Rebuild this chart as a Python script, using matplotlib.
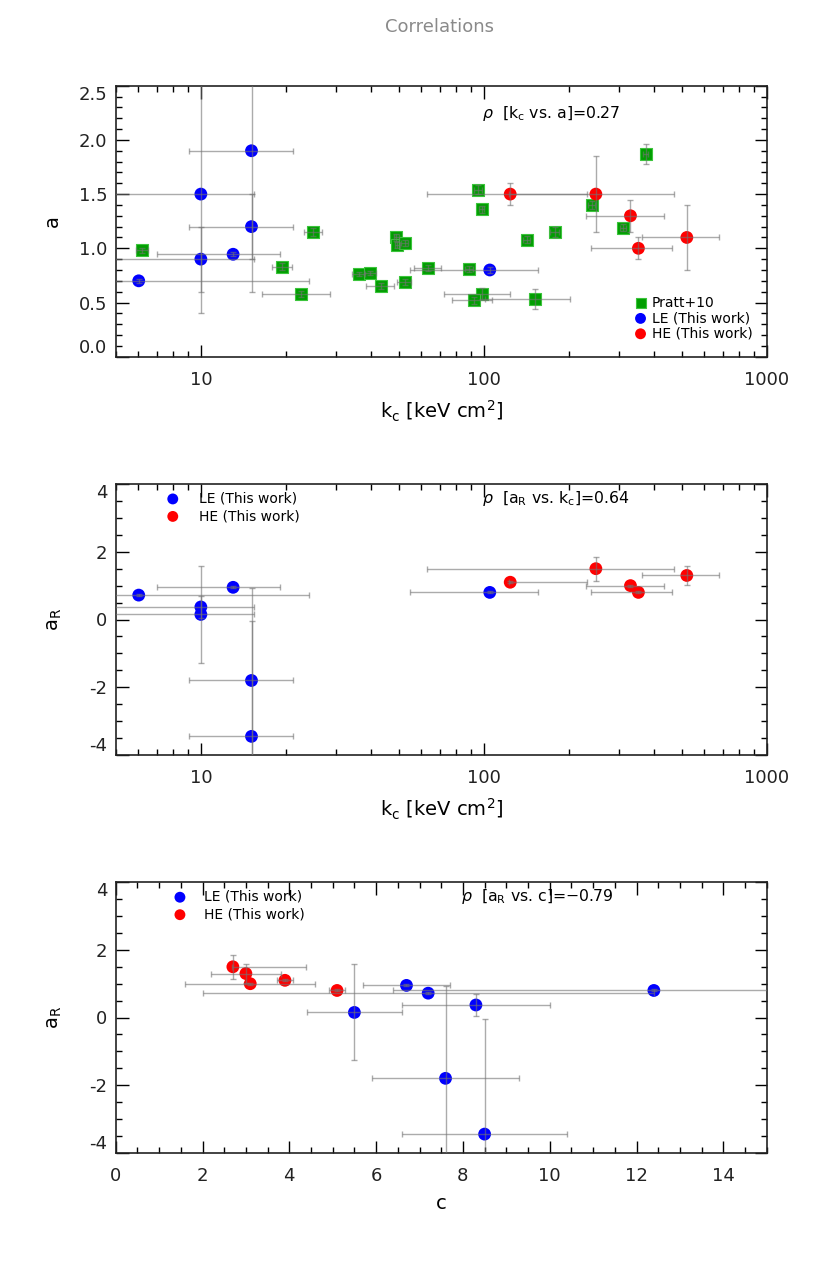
import numpy as np
import matplotlib
matplotlib.use("Agg")
import matplotlib.pyplot as plt
from matplotlib.ticker import LogLocator, FixedLocator, MultipleLocator, NullFormatter, FixedFormatter

plt.rcParams['font.family'] = ['DejaVu Sans']
plt.rcParams['axes.unicode_minus'] = False

# ---------------- data ----------------
# Pratt+10 (top panel)
pr_k = [6.2, 19.4, 24.9, 22.5, 36.1, 39.6, 43.2, 49.0, 49.5, 52.5, 52.5, 63.6,
        88.5, 95.3, 98.4, 141.6, 178, 241, 310, 374, 98.2, 92.3, 151.4]
pr_a = [0.98, 0.83, 1.15, 0.58, 0.76, 0.77, 0.65, 1.10, 1.03, 1.05, 0.69, 0.82,
        0.81, 1.54, 1.36, 1.08, 1.15, 1.40, 1.19, 1.87, 0.58, 0.52, 0.53]
pr_kerr = [0.3, 1.6, 1.8, 6, 1.8, 1.9, 5, 1.0, 1.0, 1.5, 3, 7,
           3, 3, 2, 4, 7, 7, 8, 8, 26, 15, 50]
pr_aerr = [0.02, 0.03, 0.04, 0.03, 0.02, 0.02, 0.03, 0.03, 0.03, 0.03, 0.03, 0.03,
           0.03, 0.04, 0.03, 0.03, 0.05, 0.04, 0.03, 0.09, 0.05, 0.03, 0.09]

# LE (This work)
le_k = [6.03, 10, 10, 13.0, 15.1, 15.1, 105]
le_kerr = [18, 5.4, 5.4, 6, 6, 6, 50]
le_a = [0.70, 1.50, 0.90, 0.945, 1.90, 1.20, 0.80]
le_aerr = [0.02, 1.1, 0.3, 0.02, 1.3, 0.3, 0.03]
le_aR = [0.72, 0.37, 0.15, 0.95, -1.80, -3.45, 0.80]
le_aRerr = [0.03, 0.32, 1.42, 0.03, 2.74, 3.40, 0.03]
le_c = [7.2, 8.3, 5.5, 6.7, 7.6, 8.5, 12.4]
le_cerr = [5.2, 1.7, 1.1, 1.0, 1.7, 1.9, 6.0]

# HE (This work)
he_k = [124, 249, 330, 352, 522]
he_kerr_lo = [1, 186, 100, 112, 161]
he_kerr_hi = [108, 223, 102, 109, 159]
he_a = [1.50, 1.50, 1.30, 1.00, 1.10]
he_aerr = [0.10, 0.35, 0.15, 0.10, 0.30]
he_aR = [1.10, 1.50, 1.00, 0.80, 1.30]
he_aRerr = [0.03, 0.35, 0.03, 0.03, 0.29]
he_c = [3.9, 2.7, 3.1, 5.1, 3.0]
he_cerr_lo = [0.18, 0.02, 1.5, 0.18, 0.8]
he_cerr_hi = [0.18, 1.68, 1.5, 0.18, 0.8]

rho_texts = [r"$\rho$  [k$_{\rm c}$ vs. a]=0.27",
             r"$\rho$  [a$_{\rm R}$ vs. k$_{\rm c}$]=0.64",
             r"$\rho$  [a$_{\rm R}$ vs. c]=$-$0.79"]
kc_label = r"k$_{\rm c}$ [keV cm$^{2}$]"

# ---------------- style ----------------
GREEN = '#009e00'
BLUE = '#0000ff'
RED = '#ff0000'
ECOL = (0.45, 0.45, 0.45, 0.6)
EKW = dict(fmt='none', ecolor=ECOL, elinewidth=1.0, capsize=2.5, capthick=1.0, zorder=4)

W, H = 830, 1263
fig = plt.figure(figsize=(W / 100, H / 100), dpi=100)
left = 115.7 / W
width = 651 / W
def ax_at(top_px, bot_px):
    return fig.add_axes([left, (H - bot_px) / H, width, (bot_px - top_px) / H])

ax1 = ax_at(85.7, 356.7)
ax2 = ax_at(484.0, 755.0)
ax3 = ax_at(882.3, 1152.7)

fig.text(0.53, 1 - 27 / H, "Correlations", ha='center', va='center',
         fontsize=13, color='#8a8a8a')

def style(ax):
    ax.tick_params(which='both', direction='in', top=True, right=True,
                   labelsize=13, labelcolor='#222222', width=1.0)
    ax.tick_params(which='major', length=9)
    ax.tick_params(which='minor', length=4.5)
    ax.tick_params(axis='x', pad=10)
    ax.tick_params(axis='y', pad=6)
    for s in ax.spines.values():
        s.set_linewidth(1.2)
        s.set_color('#222222')

def edge_labels(ax, ticks, fmt):
    ax.set_yticks(ticks)
    ax.set_yticklabels([fmt(t) for t in ticks])
    labs = ax.get_yticklabels()
    labs[0].set_verticalalignment('bottom')
    labs[-1].set_verticalalignment('top')

def logx(ax):
    ax.set_xscale('log')
    ax.set_xlim(5, 1000)
    ax.xaxis.set_major_locator(FixedLocator([10, 100, 1000]))
    ax.xaxis.set_major_formatter(FixedFormatter(['10', '100', '1000']))
    ax.xaxis.set_minor_locator(LogLocator(base=10, subs=np.arange(2, 10)))
    ax.xaxis.set_minor_formatter(NullFormatter())

# ---- top panel ----
ax = ax1
ax.errorbar(pr_k, pr_a, xerr=pr_kerr, yerr=pr_aerr, **EKW)
ax.errorbar(le_k, le_a, xerr=le_kerr, yerr=le_aerr, **EKW)
ax.errorbar(he_k, he_a, xerr=[he_kerr_lo, he_kerr_hi], yerr=he_aerr, **EKW)
h1 = ax.scatter(pr_k, pr_a, marker='s', s=68, c=GREEN, edgecolors='#3cc43c',
                linewidths=0.8, zorder=3, label='Pratt+10')
h2 = ax.scatter(le_k, le_a, marker='o', s=85, c=BLUE, edgecolors='none', zorder=3,
                label='LE (This work)')
h3 = ax.scatter(he_k, he_a, marker='o', s=85, c=RED, edgecolors='none', zorder=3,
                label='HE (This work)')
logx(ax)
ax.set_ylim(0, 2.5)
edge_labels(ax, [0.0, 0.5, 1.0, 1.5, 2.0, 2.5], lambda t: f"{t:.1f}")
ax.yaxis.set_minor_locator(MultipleLocator(0.1))
style(ax)
ax.set_xlabel(kc_label, fontsize=14, labelpad=7)
ax.set_ylabel('a', fontsize=14)
ax.yaxis.set_label_coords(-0.082, 0.5)
ax.text(0.563, 0.899, rho_texts[0], transform=ax.transAxes, fontsize=11.3,
        ha='left', va='center')
ax.legend(handles=[h1, h2, h3], loc='lower right', bbox_to_anchor=(0.978, 0.06),
          frameon=False, fontsize=10, handletextpad=0.3, labelspacing=0.1,
          borderaxespad=0, borderpad=0, handlelength=1.0, markerscale=0.85)

# ---- middle panel ----
ax = ax2
ax.errorbar(le_k, le_aR, xerr=le_kerr, yerr=le_aRerr, **EKW)
ax.errorbar(he_k, he_aR, xerr=[he_kerr_lo, he_kerr_hi], yerr=he_aRerr, **EKW)
m1 = ax.scatter(le_k, le_aR, marker='o', s=85, c=BLUE, edgecolors='none', zorder=3,
                label='LE (This work)')
m2 = ax.scatter(he_k, he_aR, marker='o', s=85, c=RED, edgecolors='none', zorder=3,
                label='HE (This work)')
logx(ax)
ax.set_ylim(-4, 4)
edge_labels(ax, [-4, -2, 0, 2, 4], lambda t: f"{t:d}")
ax.yaxis.set_minor_locator(MultipleLocator(0.5))
style(ax)
ax.set_xlabel(kc_label, fontsize=14, labelpad=7)
ax.set_ylabel(r'a$_{\rm R}$', fontsize=14)
ax.yaxis.set_label_coords(-0.08, 0.5)
ax.text(0.563, 0.948, rho_texts[1], transform=ax.transAxes, fontsize=11.3,
        ha='left', va='center')
ax.legend(handles=[m1, m2], loc='upper left', bbox_to_anchor=(0.077, 0.972),
          frameon=False, fontsize=10, handletextpad=1.4, labelspacing=0.25,
          borderaxespad=0, borderpad=0, handlelength=1.0, markerscale=0.85)

# ---- bottom panel ----
ax = ax3
ax.errorbar(le_c, le_aR, xerr=le_cerr, yerr=le_aRerr, **EKW)
ax.errorbar(he_c, he_aR, xerr=[he_cerr_lo, he_cerr_hi], yerr=he_aRerr, **EKW)
b1 = ax.scatter(le_c, le_aR, marker='o', s=85, c=BLUE, edgecolors='none', zorder=3,
                label='LE (This work)')
b2 = ax.scatter(he_c, he_aR, marker='o', s=85, c=RED, edgecolors='none', zorder=3,
                label='HE (This work)')
ax.set_xlim(0, 15)
ax.xaxis.set_major_locator(FixedLocator([0, 2, 4, 6, 8, 10, 12, 14]))
ax.xaxis.set_minor_locator(MultipleLocator(0.5))
ax.set_ylim(-4, 4)
edge_labels(ax, [-4, -2, 0, 2, 4], lambda t: f"{t:d}")
ax.yaxis.set_minor_locator(MultipleLocator(0.5))
style(ax)
ax.set_xlabel('c', fontsize=14, labelpad=7)
ax.set_ylabel(r'a$_{\rm R}$', fontsize=14)
ax.yaxis.set_label_coords(-0.08, 0.5)
ax.text(0.531, 0.949, rho_texts[2], transform=ax.transAxes, fontsize=11.3,
        ha='left', va='center')
ax.legend(handles=[b1, b2], loc='upper left', bbox_to_anchor=(0.088, 0.972),
          frameon=False, fontsize=10, handletextpad=1.2, labelspacing=0.25,
          borderaxespad=0, borderpad=0, handlelength=1.0, markerscale=0.85)

fig.savefig('out.png', dpi=100)
